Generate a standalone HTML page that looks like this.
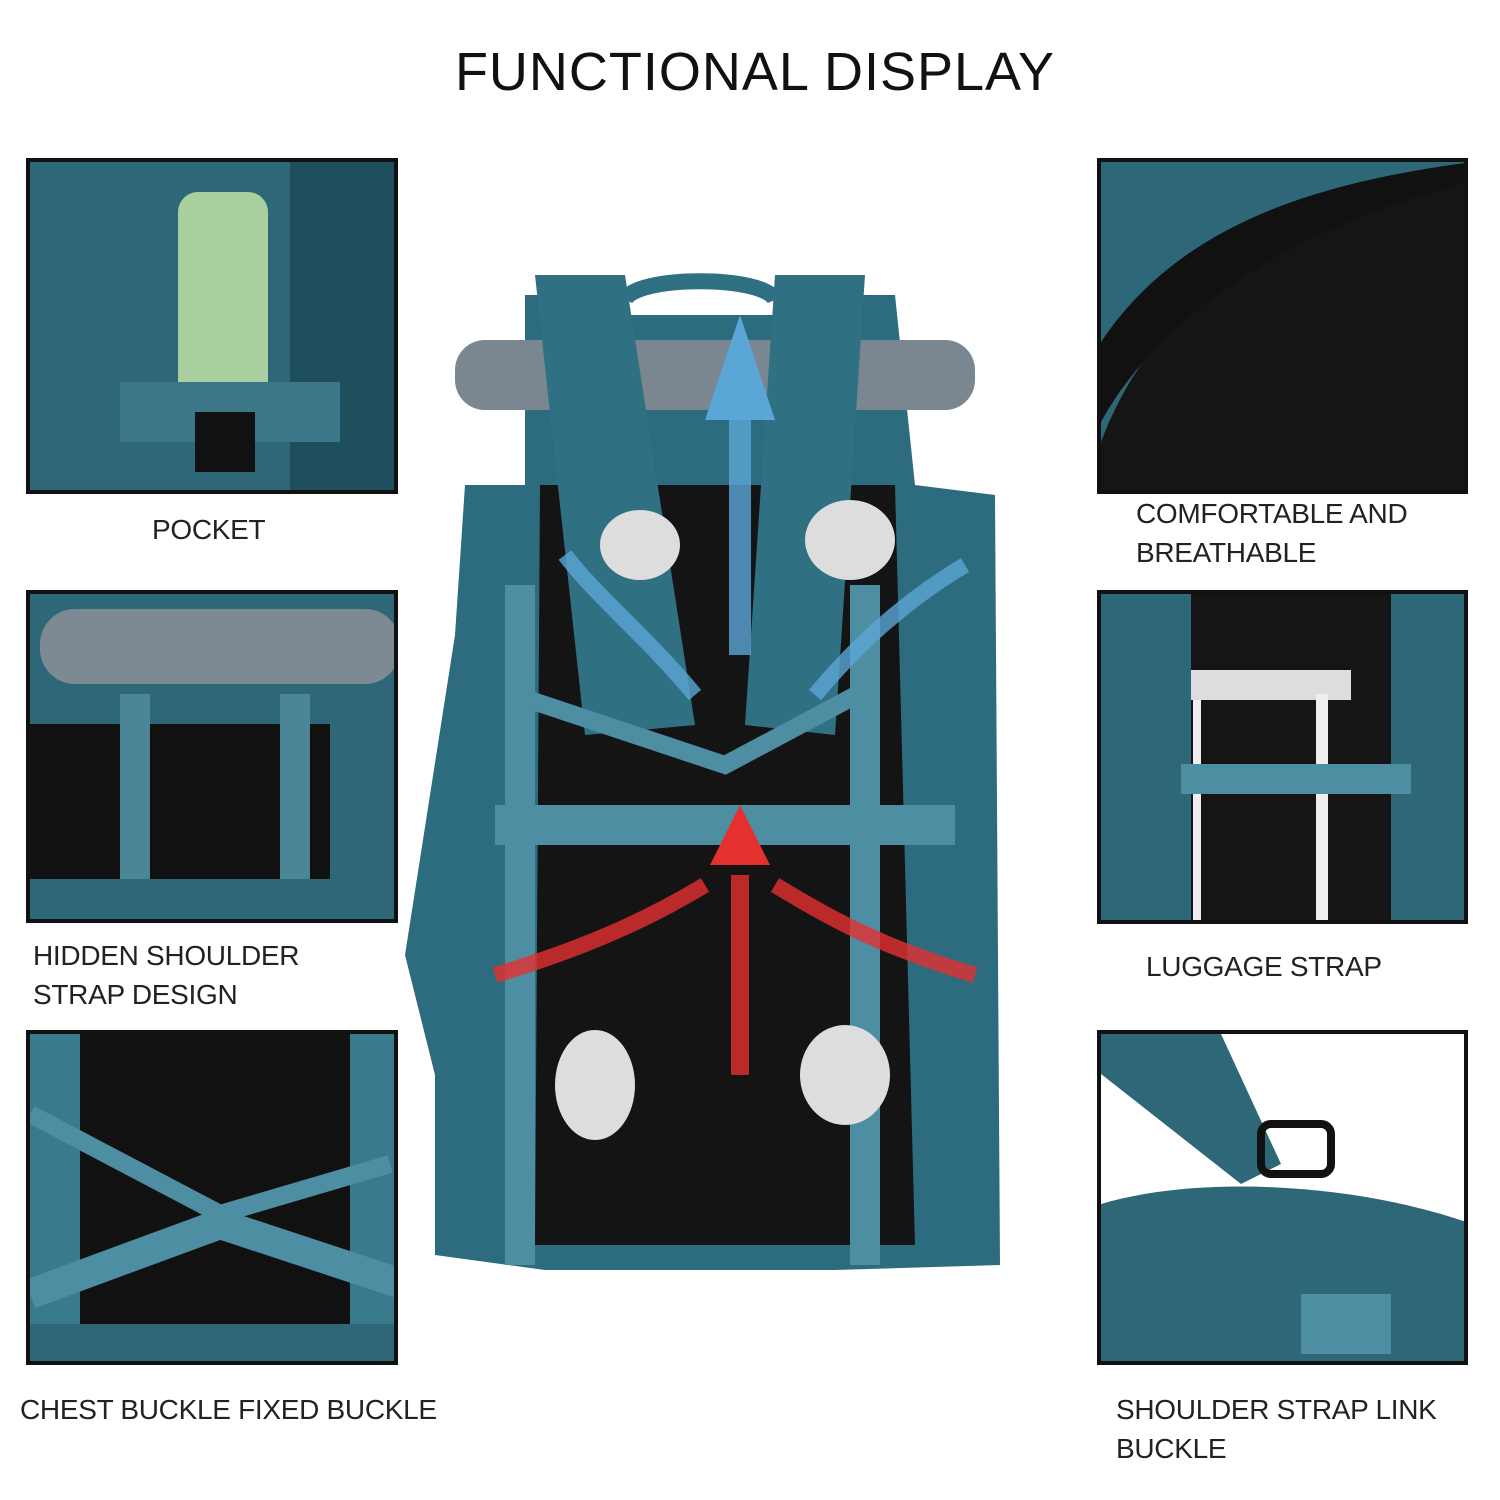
<!DOCTYPE html>
<html><head><meta charset="utf-8"><style>
body{margin:0;width:1500px;height:1500px;background:#fff;position:relative;overflow:hidden;font-family:"Liberation Sans",sans-serif}
.t{position:absolute;color:#222;font-size:28px;line-height:39px;letter-spacing:-0.3px}
.p{position:absolute;border:4px solid #111;box-sizing:border-box;overflow:hidden;background:#2c6a7b}
</style></head><body>
<div class="t" style="left:0;width:1510px;text-align:center;top:40px;font-size:54px;line-height:64px;color:#111;letter-spacing:1px">FUNCTIONAL DISPLAY</div>

<div class="p" style="left:26px;top:158px;width:372px;height:336px">
<svg width="372" height="336"><rect width="372" height="336" fill="#2e6878"/><rect x="260" y="0" width="112" height="336" fill="#1f4f5c"/><rect x="148" y="30" width="90" height="220" rx="20" fill="#a9cf9f"/><rect x="90" y="220" width="220" height="60" fill="#3b7789"/><rect x="165" y="250" width="60" height="60" fill="#111"/></svg></div>
<div class="p" style="left:26px;top:590px;width:372px;height:333px">
<svg width="372" height="333"><rect width="372" height="333" fill="#2e6878"/><rect x="0" y="130" width="300" height="160" fill="#111"/><rect x="10" y="15" width="360" height="75" rx="35" fill="#7d8a94"/><rect x="90" y="100" width="30" height="220" fill="#4a8598"/><rect x="250" y="100" width="30" height="220" fill="#4a8598"/><rect x="0" y="285" width="372" height="48" fill="#2e6878"/></svg></div>
<div class="p" style="left:26px;top:1030px;width:372px;height:335px">
<svg width="372" height="335"><rect width="372" height="335" fill="#2e6878"/><rect x="50" y="0" width="290" height="300" fill="#111"/><rect x="0" y="0" width="50" height="335" fill="#3a7a8d"/><rect x="320" y="0" width="52" height="335" fill="#3a7a8d"/><path d="M0 80 L190 180 L360 130" stroke="#4d8ea2" stroke-width="18" fill="none"/><path d="M0 260 L190 190 L372 250" stroke="#4d8ea2" stroke-width="30" fill="none"/><rect x="0" y="290" width="372" height="45" fill="#2e6878"/></svg></div>

<div class="p" style="left:1097px;top:158px;width:371px;height:336px">
<svg width="371" height="336"><rect width="371" height="336" fill="#2e6878"/><path d="M0 280 C60 120 200 60 371 20 L371 336 L0 336Z" fill="#151515"/><path d="M0 180 C80 60 220 20 371 0 L371 20 C200 60 60 150 0 260Z" fill="#111"/></svg></div>
<div class="p" style="left:1097px;top:590px;width:371px;height:334px">
<svg width="371" height="334"><rect width="371" height="334" fill="#2e6878"/><rect x="90" y="0" width="200" height="334" fill="#151515"/><path d="M92 330 L92 85 L138 85 L138 105 L100 105 L100 330Z" fill="#eee"/><rect x="90" y="76" width="160" height="30" fill="#ddd"/><rect x="215" y="100" width="12" height="230" fill="#eee"/><rect x="80" y="170" width="230" height="30" fill="#4d8ea2"/></svg></div>
<div class="p" style="left:1097px;top:1030px;width:371px;height:335px">
<svg width="371" height="335"><rect width="371" height="335" fill="#fff"/><path d="M0 0 L120 0 L180 130 L140 150 L0 40Z" fill="#2e6878"/><path d="M0 170 C100 140 260 150 371 190 L371 335 L0 335Z" fill="#2e6878"/><rect x="160" y="90" width="70" height="50" rx="10" fill="none" stroke="#111" stroke-width="8"/><rect x="200" y="260" width="90" height="60" fill="#4d8ea2"/></svg></div>

<svg style="position:absolute;left:395px;top:255px" width="700" height="1020">
<path d="M130 40 L230 40 L230 110 L400 110 L400 40 L500 40 L520 230 L600 240 L605 1010 L440 1015 L150 1015 L40 1000 L40 820 L10 700 L60 380 L70 230 L130 230Z" fill="#2d6c7e"/>
<rect x="200" y="60" width="240" height="180" fill="#2d6c7e"/>
<rect x="60" y="85" width="520" height="70" rx="30" fill="#7a8690"/>
<path d="M145 230 L500 230 L520 990 L140 990Z" fill="#141414"/>
<path d="M140 20 L230 20 L300 470 L190 480Z" fill="#2f7083"/>
<path d="M380 20 L470 20 L440 480 L350 470Z" fill="#2f7083"/>
<rect x="100" y="550" width="460" height="40" fill="#4d8ea2"/>
<rect x="110" y="330" width="30" height="680" fill="#4d8ea2"/>
<rect x="455" y="330" width="30" height="680" fill="#4d8ea2"/>
<path d="M120 440 L330 510 L480 430" stroke="#4d8ea2" stroke-width="18" fill="none"/>
<path d="M345 140 L345 400" stroke="#5aa6d6" stroke-width="22" opacity="0.8"/><path d="M310 165 L345 60 L380 165Z" fill="#5aa6d6"/>
<path d="M300 440 C250 380 200 340 170 300" stroke="#5aa6d6" stroke-width="16" fill="none" opacity=".8"/>
<path d="M420 440 C470 380 520 340 570 310" stroke="#5aa6d6" stroke-width="16" fill="none" opacity=".8"/>
<path d="M345 820 L345 620" stroke="#e53030" stroke-width="18" opacity=".8"/><path d="M315 610 L345 550 L375 610Z" fill="#e53030"/>
<path d="M100 720 C200 690 260 660 310 630" stroke="#e53030" stroke-width="16" fill="none" opacity=".8"/>
<path d="M580 720 C480 690 430 660 380 630" stroke="#e53030" stroke-width="16" fill="none" opacity=".8"/>
<ellipse cx="245" cy="290" rx="40" ry="35" fill="#ddd"/><ellipse cx="455" cy="285" rx="45" ry="40" fill="#ddd"/>
<ellipse cx="200" cy="830" rx="40" ry="55" fill="#ddd"/><ellipse cx="450" cy="820" rx="45" ry="50" fill="#ddd"/>
<path d="M230 45 C240 20 370 20 380 45" stroke="#2f7083" stroke-width="16" fill="none"/>
</svg>

<div class="t" style="left:152px;top:510px">POCKET</div>
<div class="t" style="left:33px;top:936px">HIDDEN SHOULDER<br>STRAP DESIGN</div>
<div class="t" style="left:20px;top:1390px">CHEST BUCKLE FIXED BUCKLE</div>
<div class="t" style="left:1136px;top:494px">COMFORTABLE AND<br>BREATHABLE</div>
<div class="t" style="left:1146px;top:947px">LUGGAGE STRAP</div>
<div class="t" style="left:1116px;top:1390px">SHOULDER STRAP LINK<br>BUCKLE</div>
</body></html>
